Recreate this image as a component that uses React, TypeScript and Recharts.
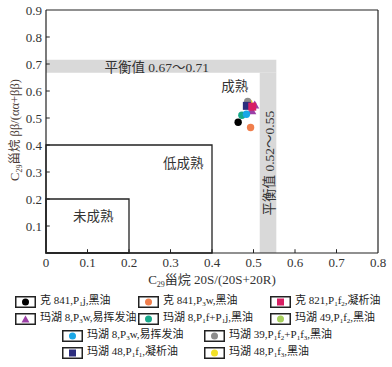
import React from 'react';
import { ScatterChart, Scatter, XAxis, YAxis, ReferenceArea, ReferenceLine, ReferenceDot } from 'recharts';

// axis ticks
const xTicks = [0, 0.1, 0.2, 0.3, 0.4, 0.5, 0.6, 0.7, 0.8];
const yTicks = [0.1, 0.2, 0.3, 0.4, 0.5, 0.6, 0.7, 0.8, 0.9];

// equilibrium bands and maturity zones
const bandX = [0.515, 0.555];
const bandY = [0.668, 0.716];
const lowMatureEdge = 0.4;
const immatureEdge = 0.2;

// samples
const ke841P1j = [{ x: 0.463, y: 0.484 }];
const ke841P3w = [{ x: 0.493, y: 0.465 }];
const ke821P1f2 = [{ x: 0.497, y: 0.542 }];
const mh8P3wVolatileTri = [{ x: 0.503, y: 0.548 }, { x: 0.496, y: 0.527 }];
const mh8P1fP1j = [{ x: 0.472, y: 0.51 }];
const mh49P1f2 = [{ x: 0.488, y: 0.549 }];
const mh8P3wVolatile = [{ x: 0.483, y: 0.514 }];
const mh39P1f2P1f3 = [{ x: 0.486, y: 0.561 }];
const mh48P1f1 = [{ x: 0.484, y: 0.545 }];
const mh48P1f3 = [{ x: 0.489, y: 0.556 }];

type Shape = 'circle' | 'square' | 'triangle';

const series: { key: string; label: string; color: string; shape: Shape; data: { x: number; y: number }[] }[] = [
  { key: 'a', label: '克 841,P_1j,黑油', color: '#000000', shape: 'circle', data: ke841P1j },
  { key: 'b', label: '克 841,P_3w,黑油', color: '#f07e4c', shape: 'circle', data: ke841P3w },
  { key: 'c', label: '克 821,P_1f_2,凝析油', color: '#d81f63', shape: 'square', data: ke821P1f2 },
  { key: 'd', label: '玛湖 8,P_3w,易挥发油', color: '#9b3fa6', shape: 'triangle', data: mh8P3wVolatileTri },
  { key: 'e', label: '玛湖 8,P_1f+P_1j,黑油', color: '#17a98a', shape: 'circle', data: mh8P1fP1j },
  { key: 'f', label: '玛湖 49,P_1f_2,黑油', color: '#a6cf5c', shape: 'circle', data: mh49P1f2 },
  { key: 'g', label: '玛湖 8,P_3w,易挥发油', color: '#1aa7e6', shape: 'circle', data: mh8P3wVolatile },
  { key: 'h', label: '玛湖 39,P_1f_2+P_1f_3,黑油', color: '#8c8c8c', shape: 'circle', data: mh39P1f2P1f3 },
  { key: 'i', label: '玛湖 48,P_1f_1,凝析油', color: '#2c2d7e', shape: 'square', data: mh48P1f1 },
  { key: 'j', label: '玛湖 48,P_1f_3,黑油', color: '#f2e128', shape: 'circle', data: mh48P1f3 },
];

// draw order in the plot (last on top)
const drawOrder = ['f', 'j', 'h', 'i', 'd', 'c', 'e', 'g', 'a', 'b'];

// legend placement: [series key, box left, row center]
const legendSlots: [string, number, number][] = [
  ['a', 15, 302], ['b', 138, 302], ['c', 270, 302],
  ['d', 15, 319], ['e', 138, 319], ['f', 270, 319],
  ['g', 62, 336], ['h', 204, 336],
  ['i', 62, 353], ['j', 204, 353],
];

const serif = '"Liberation Serif", "Times New Roman", "Noto Sans CJK SC", serif';
const ink = '#222';

const markerShape = (shape: Shape, color: string) => (p: any) => {
  const { cx, cy } = p;
  if (shape === 'square') return <rect x={cx - 4} y={cy - 4} width={8} height={8} fill={color} />;
  if (shape === 'triangle')
    return <polygon points={`${cx},${cy - 4.5} ${cx + 4.5},${cy + 3.5} ${cx - 4.5},${cy + 3.5}`} fill={color} />;
  return <circle cx={cx} cy={cy} r={3.7} fill={color} />;
};

function richText(s: string) {
  const out: React.ReactNode[] = [];
  for (let i = 0; i < s.length; i++) {
    if (s[i] === '_') {
      out.push(<sub key={i} style={{ fontSize: 7, verticalAlign: -2 }}>{s[i + 1]}</sub>);
      i++;
    } else out.push(s[i]);
  }
  return out;
}

function LegendBox({ shape, color }: { shape: Shape; color: string }) {
  return (
    <svg width={21} height={12} style={{ display: 'block' }}>
      <rect x={0.75} y={0.75} width={19.5} height={10.5} fill="#fff" stroke={ink} strokeWidth={1.5} />
      {shape === 'square' && <rect x={7} y={2.5} width={7} height={7} fill={color} />}
      {shape === 'triangle' && <polygon points="10.5,2.5 14.5,9.5 6.5,9.5" fill={color} />}
      {shape === 'circle' && <circle cx={10.5} cy={6} r={3.5} fill={color} />}
    </svg>
  );
}

const xLabel = () => (
  <text x={212} y={284} textAnchor="middle" fill="#333" fontSize={13} fontFamily={serif}>
    C<tspan fontSize={8} dy={3}>29</tspan>
    <tspan dy={-3}>甾烷 20S/(20S+20R)</tspan>
  </text>
);

const yLabel = () => {
  const cx = 19;
  const cy = 130;
  return (
    <text x={cx} y={cy} transform={`rotate(-90 ${cx} ${cy})`} textAnchor="middle" fill="#4a3b36" fontSize={12.5} fontFamily={serif}>
      C<tspan fontSize={8} dy={3}>29</tspan>
      <tspan dy={-3}>甾烷 ββ/(αα+ββ)</tspan>
    </text>
  );
};

const noteStyle = { fill: '#333', fontSize: 13.5, fontFamily: serif };

export default function App() {
  return (
    <div style={{ position: 'absolute', left: 0, top: 0, width: 392, height: 367, background: '#fff' }}>
      <ScatterChart width={392} height={290} margin={{ top: 10, right: 14, left: 0, bottom: 0 }}>
        <XAxis
          type="number"
          dataKey="x"
          domain={[0, 0.8]}
          ticks={xTicks}
          tickFormatter={(v: number) => (v === 0 ? '0' : v.toFixed(1))}
          tickLine={false}
          tickSize={0}
          tickMargin={5}
          height={37}
          axisLine={{ stroke: ink, strokeWidth: 1.2 }}
          tick={{ fill: '#333', fontSize: 13, fontFamily: serif }}
          interval={0}
          label={{ content: xLabel }}
        />
        <YAxis
          type="number"
          dataKey="y"
          domain={[0, 0.9]}
          ticks={yTicks}
          tickFormatter={(v: number) => v.toFixed(1)}
          tickLine={false}
          tickSize={0}
          tickMargin={4}
          width={46}
          axisLine={{ stroke: ink, strokeWidth: 1.2 }}
          tick={{ fill: '#333', fontSize: 13, fontFamily: serif }}
          interval={0}
          label={{ content: yLabel }}
        />

        <ReferenceArea x1={0} x2={bandX[1]} y1={bandY[0]} y2={bandY[1]} fill="#d9d9d9" fillOpacity={1} stroke="none" />
        <ReferenceArea x1={bandX[0]} x2={bandX[1]} y1={0} y2={bandY[0]} fill="#d9d9d9" fillOpacity={1} stroke="none" />

        <ReferenceArea x1={0} x2={lowMatureEdge} y1={0} y2={lowMatureEdge} fill="none" stroke={ink} strokeWidth={1.3} />
        <ReferenceArea x1={0} x2={immatureEdge} y1={0} y2={immatureEdge} fill="none" stroke={ink} strokeWidth={1.3} />

        {/* frame on top / right */}
        <ReferenceLine segment={[{ x: 0, y: 0.9 }, { x: 0.8, y: 0.9 }]} stroke={ink} strokeWidth={1.2} ifOverflow="visible" />
        <ReferenceLine segment={[{ x: 0.8, y: 0 }, { x: 0.8, y: 0.9 }]} stroke={ink} strokeWidth={1.2} ifOverflow="visible" />

        {/* inward tick marks */}
        {xTicks.slice(1, -1).map(t => (
          <ReferenceLine key={`xt${t}`} segment={[{ x: t, y: 0 }, { x: t, y: 0.014 }]} stroke={ink} strokeWidth={1} />
        ))}
        {yTicks.slice(0, -1).map(t => (
          <ReferenceLine key={`yt${t}`} segment={[{ x: 0, y: t }, { x: 0.009, y: t }]} stroke={ink} strokeWidth={1} />
        ))}

        <ReferenceDot x={0.267} y={0.688} r={0} fill="none" stroke="none" label={{ value: '平衡值 0.67～0.71', position: 'center', ...noteStyle }} />
        <ReferenceDot x={0.455} y={0.616} r={0} fill="none" stroke="none" label={{ value: '成熟', position: 'center', ...noteStyle }} />
        <ReferenceDot x={0.331} y={0.332} r={0} fill="none" stroke="none" label={{ value: '低成熟', position: 'center', ...noteStyle }} />
        <ReferenceDot x={0.114} y={0.137} r={0} fill="none" stroke="none" label={{ value: '未成熟', position: 'center', ...noteStyle }} />
        <ReferenceDot x={0.537} y={0.333} r={0} fill="none" stroke="none" label={{ value: '平衡值 0.52～0.55', position: 'center', angle: -90, ...noteStyle }} />

        {drawOrder.map(k => {
          const s = series.find(d => d.key === k)!;
          return <Scatter key={k} name={s.label} data={s.data} shape={markerShape(s.shape, s.color)} isAnimationActive={false} />;
        })}
      </ScatterChart>

      {legendSlots.map(([k, left, cy]) => {
        const s = series.find(d => d.key === k)!;
        return (
          <div key={k} style={{ position: 'absolute', left, top: cy - 6, display: 'flex', alignItems: 'center', height: 12 }}>
            <LegendBox shape={s.shape} color={s.color} />
            <span style={{ marginLeft: 4, fontSize: 11, fontFamily: serif, color: ink, whiteSpace: 'nowrap', lineHeight: '12px' }}>
              {richText(s.label)}
            </span>
          </div>
        );
      })}
    </div>
  );
}
